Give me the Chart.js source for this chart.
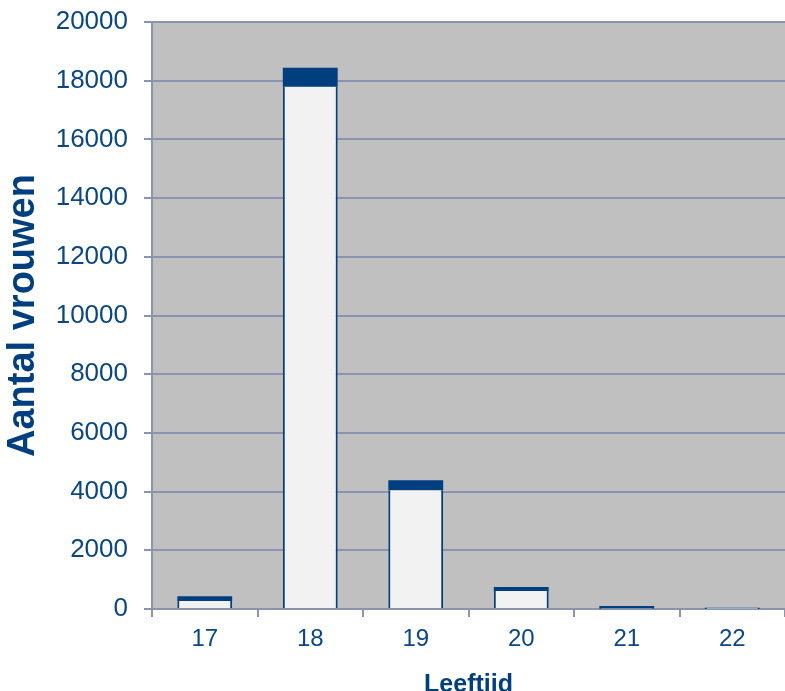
<!DOCTYPE html>
<html><head><meta charset="utf-8">
<script src="https://cdn.jsdelivr.net/npm/chart.js@4"></script>
<style>html,body{margin:0;padding:0;background:#fff;}canvas{display:block;}</style>
</head><body>
<canvas id="c" width="785" height="691"></canvas>
<script>
const categories = ['17', '18', '19', '20', '21', '22'];
const lowerValues = [270, 17790, 4050, 615, 20, 10];
const upperValues = [165, 650, 340, 135, 85, 35];
const yTicks = [0, 2000, 4000, 6000, 8000, 10000, 12000, 14000, 16000, 18000, 20000];

const DARK = '#003f7f';
const TEXT = '#0b4683';
const GRID = '#8a94ae';
const FAM = 'Liberation Sans, Arial, sans-serif';

const bgPlugin = {
  id: 'plotBg',
  beforeDraw(chart) {
    const a = chart.chartArea, ctx = chart.ctx;
    ctx.save(); ctx.fillStyle = '#c0c0c0';
    ctx.fillRect(a.left, a.top, a.right - a.left, a.bottom - a.top);
    ctx.restore();
  }
};

new Chart(document.getElementById('c'), {
  type: 'bar',
  data: {
    labels: categories,
    datasets: [
      { data: lowerValues, backgroundColor: '#f2f2f2', borderColor: DARK,
        borderWidth: { left: 2, right: 2, top: 0, bottom: 0 }, borderSkipped: false,
        barPercentage: 0.52, categoryPercentage: 1 },
      { data: upperValues, backgroundColor: DARK, borderColor: DARK, borderWidth: 0,
        barPercentage: 0.52, categoryPercentage: 1 }
    ]
  },
  options: {
    responsive: false, animation: false,
    layout: { padding: { top: 22, right: 0, left: 0, bottom: 0 } },
    plugins: { legend: { display: false }, tooltip: { enabled: false } },
    scales: {
      x: {
        stacked: true,
        afterFit(s) { s.height = 82; s.paddingLeft = 0; s.paddingRight = 0; },
        grid: { display: true, drawOnChartArea: false, drawTicks: true, tickLength: 8, color: GRID, lineWidth: 2, offset: true },
        border: { display: true, color: GRID, width: 2 },
        ticks: { color: TEXT, padding: 8, font: { family: FAM, size: 24 } },
        title: { display: true, text: 'Leeftijd', color: DARK, padding: { top: 0, bottom: -9 },
          font: { family: FAM, size: 25, weight: 'bold' } }
      },
      y: {
        stacked: true, min: 0, max: 20000,
        afterFit(s) { s.width = 152; s.paddingTop = 0; s.paddingBottom = 0; },
        afterBuildTicks(s) { s.ticks = yTicks.map(v => ({ value: v })); },
        grid: { color: GRID, lineWidth: 2, tickLength: 8 },
        border: { display: true, color: GRID, width: 2 },
        ticks: { color: TEXT, padding: 16, font: { family: FAM, size: 26 }, callback: v => String(v) },
        title: { display: true, text: 'Aantal vrouwen', color: DARK, padding: { top: 1, bottom: 0 },
          font: { family: FAM, size: 38, weight: 'bold' } }
      }
    }
  },
  plugins: [bgPlugin]
});
</script>
</body></html>
